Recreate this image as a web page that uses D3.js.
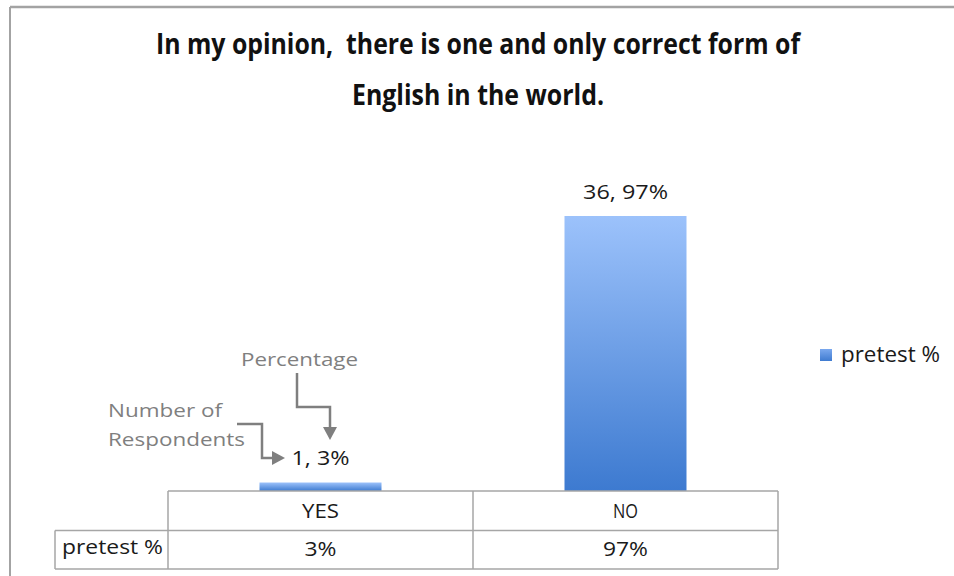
<!DOCTYPE html>
<html>
<head>
<meta charset="utf-8">
<script src="https://cdn.jsdelivr.net/npm/d3@7"></script>
<style>
  html, body { margin: 0; padding: 0; background: #fff; }
  svg { display: block; }
  text { font-family: "Open Sans", "Noto Sans", sans-serif; white-space: pre; }
</style>
</head>
<body>
<svg id="chart" width="954" height="576"></svg>
<script>
// Survey answers
const categories = ["YES", "NO"];
const respondents = [1, 36];
const percentages = [3, 97];
const seriesName = "pretest %";
const titleLines = [
  "In my opinion,  there is one and only correct form of",
  "English in the world."
];

const W = 954, H = 576;
const svg = d3.select("#chart");

// plot / table geometry
const plot = { left: 168, right: 778, top: 207.5, bottom: 491 };
const tableRow = { header: [491, 530.5], data: [530.5, 569] };
const labelColLeft = 55;

const x = d3.scaleBand()
  .domain(categories)
  .range([plot.left, plot.right])
  .paddingInner(0.6)
  .paddingOuter(0.3);

const y = d3.scaleLinear().domain([0, 100]).range([plot.bottom, plot.top]);

// bar gradient
const defs = svg.append("defs");
const grad = defs.append("linearGradient")
  .attr("id", "barGrad").attr("x1", 0).attr("y1", 0).attr("x2", 0).attr("y2", 1);
grad.append("stop").attr("offset", "0%").attr("stop-color", "#9cc2fb");
grad.append("stop").attr("offset", "100%").attr("stop-color", "#3d7ad0");

const legGrad = defs.append("linearGradient")
  .attr("id", "legGrad").attr("x1", 0).attr("y1", 0).attr("x2", 0).attr("y2", 1);
legGrad.append("stop").attr("offset", "0%").attr("stop-color", "#7aa8ee");
legGrad.append("stop").attr("offset", "100%").attr("stop-color", "#3f7bd0");

// frame
svg.append("line").attr("x1", 10).attr("x2", W).attr("y1", 7).attr("y2", 7)
  .attr("stroke", "#a3a3a3").attr("stroke-width", 2.5);
svg.append("line").attr("x1", 10).attr("x2", 10).attr("y1", 7).attr("y2", H)
  .attr("stroke", "#a3a3a3").attr("stroke-width", 2);

// title
const titleWidths = [644, 252];
const titleBase = [54, 105];
svg.selectAll("text.title").data(titleLines).join("text")
  .attr("class", "title")
  .attr("x", 478)
  .attr("y", (d, i) => titleBase[i])
  .attr("text-anchor", "middle")
  .attr("font-size", 28)
  .attr("font-weight", "bold")
  .attr("fill", "#111")
  .attr("textLength", (d, i) => titleWidths[i])
  .attr("lengthAdjust", "spacingAndGlyphs")
  .text(d => d);

// bars
svg.selectAll("rect.bar").data(categories).join("rect")
  .attr("class", "bar")
  .attr("x", d => x(d))
  .attr("width", x.bandwidth())
  .attr("y", (d, i) => y(percentages[i]))
  .attr("height", (d, i) => y(0) - y(percentages[i]))
  .attr("fill", "url(#barGrad)");

// value labels: "count, percent%"
const labelWidths = [58, 85];
svg.selectAll("text.val").data(categories).join("text")
  .attr("class", "val")
  .attr("x", d => x(d) + x.bandwidth() / 2)
  .attr("y", (d, i) => y(percentages[i]) - 17)
  .attr("text-anchor", "middle")
  .attr("font-size", 20)
  .attr("fill", "#1a1a1a")
  .attr("textLength", (d, i) => labelWidths[i])
  .attr("lengthAdjust", "spacingAndGlyphs")
  .text((d, i) => `${respondents[i]}, ${percentages[i]}%`);

// data table
const tbl = svg.append("g").attr("stroke", "#a6a6a6").attr("stroke-width", 1.5).attr("fill", "none");
const colEdges = [plot.left].concat(categories.map(c => x(c) - x.step() * x.paddingOuter() + x.step()));
tbl.append("path").attr("d",
  `M${plot.left},${tableRow.header[0]}H${plot.right}` +
  `M${labelColLeft},${tableRow.data[0]}H${plot.right}` +
  `M${labelColLeft},${tableRow.data[1]}H${plot.right}` +
  `M${labelColLeft},${tableRow.data[0]}V${tableRow.data[1]}` +
  colEdges.map(cx => `M${cx},${tableRow.header[0]}V${tableRow.data[1]}`).join(""));

const cellFont = 20;
svg.selectAll("text.head").data(categories).join("text")
  .attr("class", "head")
  .attr("x", d => x(d) + x.bandwidth() / 2)
  .attr("y", 518)
  .attr("text-anchor", "middle")
  .attr("font-size", cellFont)
  .attr("fill", "#1a1a1a")
  .attr("textLength", (d, i) => [37, 25][i])
  .attr("lengthAdjust", "spacingAndGlyphs")
  .text(d => d);

svg.selectAll("text.cell").data(categories).join("text")
  .attr("class", "cell")
  .attr("x", d => x(d) + x.bandwidth() / 2)
  .attr("y", 556)
  .attr("text-anchor", "middle")
  .attr("font-size", cellFont)
  .attr("fill", "#1a1a1a")
  .attr("textLength", (d, i) => [32, 45][i])
  .attr("lengthAdjust", "spacingAndGlyphs")
  .text((d, i) => `${percentages[i]}%`);

svg.append("text")
  .attr("x", 62).attr("y", 554)
  .attr("font-size", cellFont)
  .attr("fill", "#1a1a1a")
  .attr("textLength", 101)
  .attr("lengthAdjust", "spacingAndGlyphs")
  .text(seriesName);

// legend
svg.append("rect").attr("x", 820).attr("y", 349).attr("width", 12).attr("height", 12)
  .attr("fill", "url(#legGrad)");
svg.append("text")
  .attr("x", 841).attr("y", 362)
  .attr("font-size", 21)
  .attr("fill", "#1a1a1a")
  .attr("textLength", 99)
  .attr("lengthAdjust", "spacingAndGlyphs")
  .text(seriesName);

// callouts explaining the label format
const grey = "#7f7f7f";
const ann = svg.append("g");
ann.append("text").attr("x", 241).attr("y", 366).attr("font-size", 19).attr("fill", grey)
  .attr("textLength", 117).attr("lengthAdjust", "spacingAndGlyphs").text("Percentage");
ann.append("text").attr("x", 108).attr("y", 417).attr("font-size", 19).attr("fill", grey)
  .attr("textLength", 114).attr("lengthAdjust", "spacingAndGlyphs").text("Number of");
ann.append("text").attr("x", 108).attr("y", 446).attr("font-size", 19).attr("fill", grey)
  .attr("textLength", 137).attr("lengthAdjust", "spacingAndGlyphs").text("Respondents");

const arrowStyle = g => g.attr("fill", "none").attr("stroke", grey).attr("stroke-width", 2.5);
ann.append("path").attr("d", "M297,373V407H330V429").call(arrowStyle);
ann.append("path").attr("d", "M323,427L337,427L330,440Z").attr("fill", grey);
ann.append("path").attr("d", "M237,424H262V458H274").call(arrowStyle);
ann.append("path").attr("d", "M272,451L272,465L285,458Z").attr("fill", grey);
</script>
</body>
</html>
